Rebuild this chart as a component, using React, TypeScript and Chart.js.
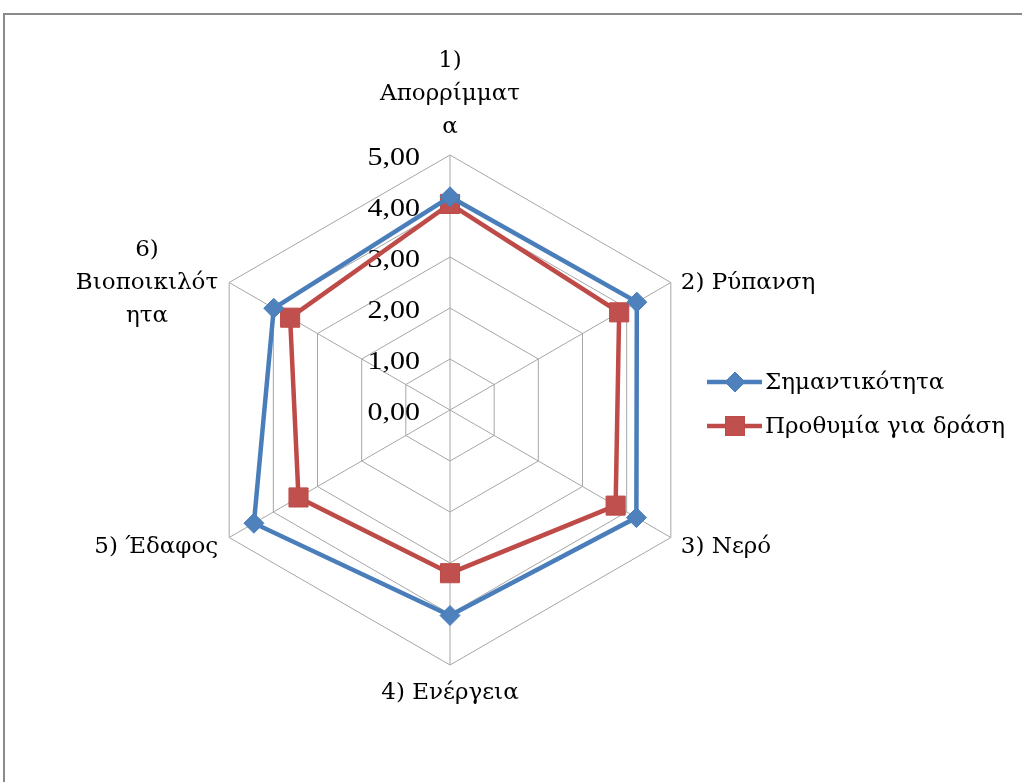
import { useEffect, useRef } from "react";
import { Chart, registerables } from "chart.js";

Chart.register(...registerables);

const categories: string[][] = [
  ["1)", "Απορρίμματ", "α"],
  ["2) Ρύπανση"],
  ["3) Νερό"],
  ["4) Ενέργεια"],
  ["5) Έδαφος"],
  ["6)", "Βιοποικιλότ", "ητα"],
];
const importance = [4.18, 4.23, 4.22, 4.03, 4.44, 3.99];
const willingness = [4.04, 3.83, 3.75, 3.2, 3.43, 3.62];
const seriesNames = ["Σημαντικότητα", "Προθυμία για δράση"];
const tickValues = [0, 1, 2, 3, 4, 5];

const BLUE = "#4a7ebb";
const BLUE_FILL = "#4f81bd";
const RED = "#be4b48";
const RED_FILL = "#c0504d";
const GRID = "#a6a6a6";
const FONT = "23px 'DejaVu Serif', serif";
const TICK_FONT = "25px 'Liberation Serif', 'DejaVu Serif', serif";
const LINE_H = 33;

const fmt = (v: number) => v.toFixed(2).replace(".", ",");

const tickPlugin = {
  id: "tickLabels",
  beforeDatasetsDraw(chart: any) {
    const scale = chart.scales.r;
    const ctx = chart.ctx;
    ctx.save();
    ctx.font = TICK_FONT;
    ctx.fillStyle = "#000";
    ctx.textAlign = "right";
    ctx.textBaseline = "middle";
    tickValues.forEach((v) => {
      const d = scale.getDistanceFromCenterForValue(v);
      ctx.save();
      ctx.translate(scale.xCenter - 30, scale.yCenter - d + 3);
      ctx.scale(1.2, 1);
      ctx.fillText(fmt(v), 0, 0);
      ctx.restore();
    });
    ctx.restore();
  },
};

const labelPlugin = {
  id: "axisLabels",
  afterDraw(chart: any) {
    const scale = chart.scales.r;
    const ctx = chart.ctx;
    ctx.save();
    ctx.font = FONT;
    ctx.fillStyle = "#000";
    ctx.textBaseline = "alphabetic";
    categories.forEach((lines, i) => {
      const p = scale.getPointPosition(i, scale.drawingArea);
      const dx = p.x - scale.xCenter;
      const dy = p.y - scale.yCenter;
      if (Math.abs(dx) < 1) {
        ctx.textAlign = "center";
        if (dy < 0) {
          const lastBase = p.y - 22;
          lines.forEach((l, k) => {
            ctx.fillText(l, p.x, lastBase - (lines.length - 1 - k) * LINE_H);
          });
        } else {
          lines.forEach((l, k) => {
            ctx.fillText(l, p.x, p.y + 34 + k * LINE_H);
          });
        }
      } else {
        const midBase = p.y + (dy > 0 ? 15 : 6);
        const n = lines.length;
        if (dx > 0) {
          ctx.textAlign = "left";
          lines.forEach((l, k) => {
            ctx.fillText(l, p.x + 10, midBase + (k - (n - 1) / 2) * LINE_H);
          });
        } else {
          const w = Math.max(...lines.map((l) => ctx.measureText(l).width));
          const cx = p.x - 11 - w / 2;
          ctx.textAlign = "center";
          lines.forEach((l, k) => {
            ctx.fillText(l, cx, midBase + (k - (n - 1) / 2) * LINE_H);
          });
        }
      }
    });
    ctx.restore();
  },
};

const legendPlugin = {
  id: "customLegend",
  afterDraw(chart: any) {
    const ctx = chart.ctx;
    ctx.save();
    ctx.font = FONT;
    ctx.textAlign = "left";
    ctx.textBaseline = "middle";
    const items = [
      { name: seriesNames[0], color: BLUE, fill: BLUE_FILL, shape: "diamond", y: 382 },
      { name: seriesNames[1], color: RED, fill: RED_FILL, shape: "square", y: 426 },
    ];
    items.forEach((it) => {
      ctx.strokeStyle = it.color;
      ctx.lineWidth = 4.5;
      ctx.beginPath();
      ctx.moveTo(707, it.y);
      ctx.lineTo(762, it.y);
      ctx.stroke();
      ctx.fillStyle = it.fill;
      ctx.lineWidth = 1;
      const cx = 735;
      if (it.shape === "diamond") {
        ctx.beginPath();
        ctx.moveTo(cx, it.y - 10);
        ctx.lineTo(cx + 10, it.y);
        ctx.lineTo(cx, it.y + 10);
        ctx.lineTo(cx - 10, it.y);
        ctx.closePath();
        ctx.fill();
        ctx.stroke();
      } else {
        ctx.fillRect(cx - 9.5, it.y - 9.5, 19, 19);
        ctx.strokeRect(cx - 9.5, it.y - 9.5, 19, 19);
      }
      ctx.fillStyle = "#000";
      ctx.fillText(it.name, 765, it.y + 1);
    });
    ctx.restore();
  },
};

export default function App() {
  const ref = useRef<HTMLCanvasElement | null>(null);

  useEffect(() => {
    if (!ref.current) return;
    const chart = new Chart(ref.current, {
      type: "radar",
      data: {
        labels: categories.map((c) => c.join(" ")),
        datasets: [
          {
            label: seriesNames[0],
            data: importance,
            borderColor: BLUE,
            backgroundColor: BLUE_FILL,
            borderWidth: 4.5,
            fill: false,
            pointStyle: "rectRot",
            pointRadius: 10,
            pointBorderWidth: 1,
            pointBackgroundColor: BLUE_FILL,
            pointBorderColor: BLUE,
          },
          {
            label: seriesNames[1],
            data: willingness,
            borderColor: RED,
            backgroundColor: RED_FILL,
            borderWidth: 4.5,
            fill: false,
            pointStyle: "rect",
            pointRadius: 13.5,
            pointBorderWidth: 1,
            pointBackgroundColor: RED_FILL,
            pointBorderColor: RED,
          },
        ],
      },
      options: {
        animation: false,
        responsive: true,
        maintainAspectRatio: false,
        layout: { padding: { left: 195, top: 155, right: 316, bottom: 116 } },
        plugins: {
          legend: { display: false },
          tooltip: { enabled: false },
        },
        elements: { line: { tension: 0 } },
        scales: {
          r: {
            min: 0,
            max: 5,
            ticks: { stepSize: 1, display: false, showLabelBackdrop: false },
            pointLabels: { display: false },
            grid: { color: GRID, lineWidth: 1 },
            angleLines: { color: GRID, lineWidth: 1 },
          },
        },
      },
      plugins: [tickPlugin, labelPlugin, legendPlugin],
    });
    return () => chart.destroy();
  }, []);

  return (
    <div
      style={{
        position: "absolute",
        left: 0,
        top: 0,
        width: 1022,
        height: 782,
        overflow: "hidden",
        background: "#fff",
      }}
    >
      <div
        style={{
          position: "absolute",
          left: 3,
          top: 13,
          width: 1100,
          height: 900,
          border: "2px solid #8a8a8a",
        }}
      />
      <canvas ref={ref} style={{ position: "absolute", left: 0, top: 0 }} />
    </div>
  );
}
